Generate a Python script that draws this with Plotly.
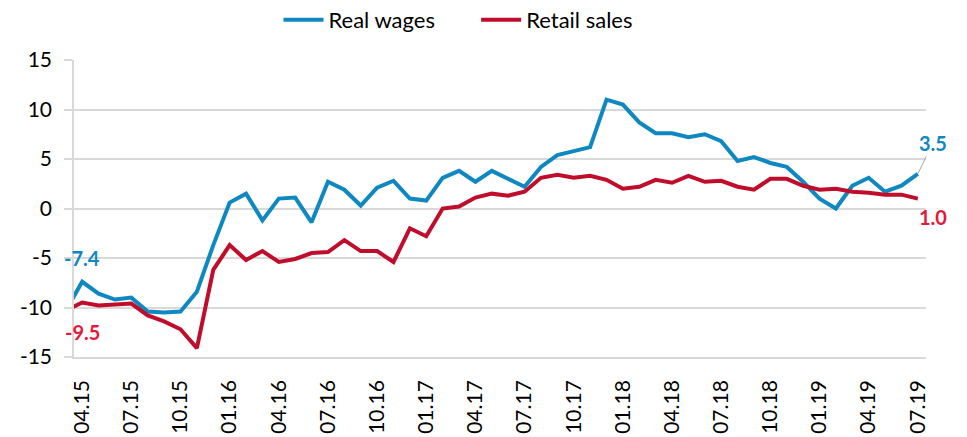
import plotly.graph_objects as go

# monthly y/y change, %
months = ["03.15", "04.15", "05.15", "06.15", "07.15", "08.15", "09.15", "10.15", "11.15", "12.15",
          "01.16", "02.16", "03.16", "04.16", "05.16", "06.16", "07.16", "08.16", "09.16", "10.16", "11.16", "12.16",
          "01.17", "02.17", "03.17", "04.17", "05.17", "06.17", "07.17", "08.17", "09.17", "10.17", "11.17", "12.17",
          "01.18", "02.18", "03.18", "04.18", "05.18", "06.18", "07.18", "08.18", "09.18", "10.18", "11.18", "12.18",
          "01.19", "02.19", "03.19", "04.19", "05.19", "06.19", "07.19"]

real_wages = [-10.3, -7.4, -8.6, -9.2, -9.0, -10.4, -10.5, -10.4, -8.4, -3.7,
              0.6, 1.5, -1.2, 1.0, 1.1, -1.4, 2.7, 1.9, 0.3, 2.1, 2.8, 1.0,
              0.8, 3.1, 3.8, 2.7, 3.8, 3.0, 2.2, 4.2, 5.4, 5.8, 6.2, 11.0,
              10.5, 8.7, 7.6, 7.6, 7.2, 7.5, 6.8, 4.8, 5.2, 4.6, 4.2, 2.7,
              1.0, 0.0, 2.3, 3.1, 1.7, 2.3, 3.5]

retail_sales = [-10.3, -9.5, -9.8, -9.7, -9.6, -10.8, -11.4, -12.2, -14.1, -6.2,
                -3.7, -5.2, -4.3, -5.4, -5.1, -4.5, -4.4, -3.2, -4.3, -4.3, -5.4, -2.0,
                -2.8, 0.0, 0.2, 1.1, 1.5, 1.3, 1.7, 3.1, 3.4, 3.1, 3.3, 2.9,
                2.0, 2.2, 2.9, 2.6, 3.3, 2.7, 2.8, 2.2, 1.9, 3.0, 3.0, 2.3,
                1.9, 2.0, 1.7, 1.6, 1.4, 1.4, 1.0]

tick_months = months[1::3]
y_ticks = [-15, -10, -5, 0, 5, 10, 15]

BLUE = "#0F88C2"
RED = "#C00D2B"
RED_LABEL = "#E5173A"
GRID = "#D9D9D9"
FONT = "Lato"

fig = go.Figure()
fig.add_trace(go.Scatter(x=months, y=real_wages, mode="lines", name="Real wages",
                         line=dict(color=BLUE, width=4), legend="legend"))
fig.add_trace(go.Scatter(x=months, y=retail_sales, mode="lines", name="Retail sales",
                         line=dict(color=RED, width=4), legend="legend2"))

# value labels at both ends (category axis -> use positions, not the "mm.yy" strings)
first, last = 1, len(months) - 1
fig.add_annotation(x=first, y=real_wages[first], text="<b>%.1f</b>" % real_wages[first],
                   showarrow=False, yshift=24, font=dict(color=BLUE, size=20, family=FONT))
fig.add_annotation(x=first, y=retail_sales[first], text="<b>%.1f</b>" % retail_sales[first],
                   showarrow=False, yshift=-29, font=dict(color=RED_LABEL, size=20, family=FONT))
fig.add_annotation(x=last, y=real_wages[last], text="<b>%.1f</b>" % real_wages[last],
                   showarrow=True, arrowhead=0, arrowwidth=1, arrowcolor="#A6A6A6",
                   ax=15, ay=-31, standoff=0, font=dict(color=BLUE, size=20, family=FONT))
fig.add_annotation(x=last, y=retail_sales[last], text="<b>%.1f</b>" % retail_sales[last],
                   showarrow=False, xshift=15, yshift=-18, font=dict(color=RED_LABEL, size=20, family=FONT))

legend_style = dict(orientation="h", yanchor="middle", y=1.135, xanchor="left",
                    font=dict(size=22, family=FONT), itemwidth=40, bgcolor="rgba(0,0,0,0)",
                    tracegroupgap=0, maxheight=80)

# page body adds an 8px offset, so the figure is 8px smaller than the window
fig.update_layout(
    width=959, height=429,
    margin=dict(l=66, r=41, t=52, b=80, autoexpand=False),
    paper_bgcolor="white", plot_bgcolor="white",
    font=dict(family=FONT, color="#000000"),
    showlegend=True,
    legend=dict(legend_style, x=0.24),
    legend2=dict(legend_style, x=0.472),
)
fig.update_xaxes(type="category", range=[0.5, len(months) - 0.5],
                 tickmode="array", tickvals=tick_months, ticktext=tick_months,
                 tickangle=-90, tickfont=dict(size=21, family=FONT),
                 showgrid=False, showline=True, linecolor=GRID, linewidth=1.5,
                 ticks="", ticklabelstandoff=13)
fig.update_yaxes(range=[-15, 15], tickmode="array", tickvals=y_ticks,
                 ticktext=[str(v) for v in y_ticks], tickfont=dict(size=21, family=FONT),
                 showgrid=True, gridcolor=GRID, gridwidth=1.5, zeroline=False,
                 showline=True, linecolor=GRID, linewidth=1.5,
                 ticks="outside", ticklen=8, tickcolor=GRID, tickwidth=1.5,
                 ticklabelstandoff=8)

fig.write_html("out.html")
